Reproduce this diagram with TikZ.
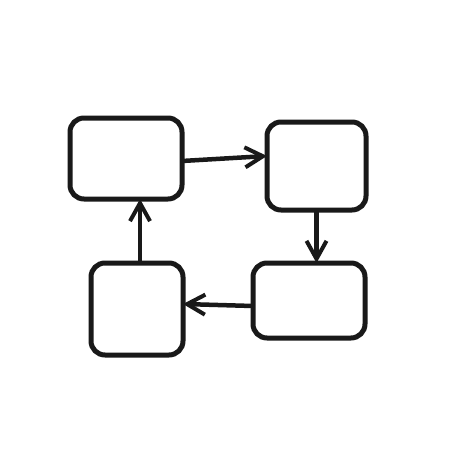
\documentclass[tikz,border=0pt]{standalone}
\usetikzlibrary{arrows.meta}
\begin{document}
\begin{tikzpicture}[x=1pt,y=-1pt,
  box/.style={draw=black!90,line width=5pt,rounded corners=14pt,inner sep=0pt,outer sep=0pt,fill=white},
  conn/.style={draw=black!90,line width=4.5pt,-{Straight Barb[length=18pt,width=20pt,line width=4pt]}}]
\useasboundingbox[fill=white] (0,0) rectangle (452,452);
\node[box,minimum width=112pt,minimum height=81pt] (A) at (126,158.5) {};
\node[box,minimum width=99pt,minimum height=88pt] (B) at (316.5,166) {};
\node[box,minimum width=112pt,minimum height=75pt] (C) at (309,300.5) {};
\node[box,minimum width=92pt,minimum height=92pt] (D) at (137,309) {};
\draw[conn] ([yshift=-2.5pt]A.east) -- ([yshift=10pt]B.west);
\draw[conn] (B.south) -- (B.south |- C.north);
\draw[conn] ([yshift=-5.5pt]C.west) -- ([yshift=5pt]D.east);
\draw[conn] ([xshift=3pt]D.north) -- ([xshift=3pt]D.north |- A.south);
\end{tikzpicture}
\end{document}
